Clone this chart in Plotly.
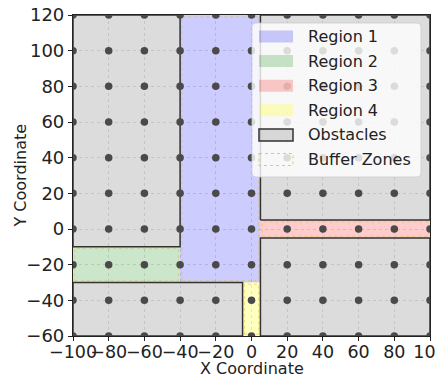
import plotly.graph_objects as go

# ---- data ----
region_names = ["Region 1", "Region 2", "Region 3", "Region 4"]
region_x0 = [-40, -100, 5, -5]
region_x1 = [5, -40, 100, 5]
region_y0 = [-30, -30, -5, -60]
region_y1 = [120, -10, 5, -30]
region_colors = ["rgba(0,0,255,0.2)", "rgba(0,128,0,0.2)", "rgba(255,0,0,0.2)", "rgba(255,255,0,0.25)"]

obstacle_x0 = [-100, 5, 5, -100]
obstacle_x1 = [-40, 100, 100, -5]
obstacle_y0 = [-10, 5, -60, -60]
obstacle_y1 = [120, 120, -5, -30]

buffer_x0 = [-39, -99, 6, -4]
buffer_x1 = [4, -41, 99, 4]
buffer_y0 = [-29, -29, -4, -59]
buffer_y1 = [119, -11, 4, -31]

grid_x = [-100, -80, -60, -40, -20, 0, 20, 40, 60, 80, 100]
grid_y = [-60, -40, -20, 0, 20, 40, 60, 80, 100, 120]

x_ticks = [-100, -80, -60, -40, -20, 0, 20, 40, 60, 80, 100]
y_ticks = [-60, -40, -20, 0, 20, 40, 60, 80, 100, 120]

legend_labels = ["Region 1", "Region 2", "Region 3", "Region 4", "Obstacles", "Buffer Zones"]
x_title = "X Coordinate"
y_title = "Y Coordinate"

OBST_FILL = "rgba(128,128,128,0.28)"
OBST_LINE = "#333333"
BUF_LINE = "rgba(220,190,60,0.55)"


def rect(x0, x1, y0, y1):
    return [x0, x1, x1, x0, x0], [y0, y0, y1, y1, y0]


fig = go.Figure()

for name, x0, x1, y0, y1, c in zip(region_names, region_x0, region_x1, region_y0, region_y1, region_colors):
    xs, ys = rect(x0, x1, y0, y1)
    fig.add_trace(go.Scatter(x=xs, y=ys, fill="toself", fillcolor=c, mode="lines",
                             line=dict(width=0, color=c), name=name, hoverinfo="skip"))

for x0, x1, y0, y1 in zip(obstacle_x0, obstacle_x1, obstacle_y0, obstacle_y1):
    xs, ys = rect(x0, x1, y0, y1)
    fig.add_trace(go.Scatter(x=xs, y=ys, fill="toself", fillcolor=OBST_FILL, mode="lines",
                             line=dict(width=1.5, color=OBST_LINE), name="Obstacles", hoverinfo="skip"))

for x0, x1, y0, y1 in zip(buffer_x0, buffer_x1, buffer_y0, buffer_y1):
    xs, ys = rect(x0, x1, y0, y1)
    fig.add_trace(go.Scatter(x=xs, y=ys, mode="lines",
                             line=dict(width=1, color=BUF_LINE, dash="dot"), name="Buffer Zones", hoverinfo="skip"))

px, py = [], []
for yv in grid_y:
    for xv in grid_x:
        px.append(xv)
        py.append(yv)
fig.add_trace(go.Scatter(x=px, y=py, mode="markers", marker=dict(size=7.5, color="#4a4a4a"),
                         hoverinfo="skip", cliponaxis=True))

# ---- layout in window pixels; page body has an 8px margin ----
OFF = 8
W, H = 444 - OFF, 376 - OFF
PL, PR, PT, PB = 73, 430, 15, 336          # plot area in window pixels
ML, MR, MT, MB = PL - OFF, W - (PR - OFF), PT - OFF, H - (PB - OFF)
PW, PH = PR - PL, PB - PT


def fx(p):
    return (p - PL) / PW


def fy(p):
    return 1 - (p - PT) / PH


bx0, bx1, by0, by1, r = 252, 421, 23, 177, 4
rx, ry = r / PW, r / PH
path = (f"M {fx(bx0)+rx},{fy(by0)} L {fx(bx1)-rx},{fy(by0)} Q {fx(bx1)},{fy(by0)} {fx(bx1)},{fy(by0)-ry} "
        f"L {fx(bx1)},{fy(by1)+ry} Q {fx(bx1)},{fy(by1)} {fx(bx1)-rx},{fy(by1)} "
        f"L {fx(bx0)+rx},{fy(by1)} Q {fx(bx0)},{fy(by1)} {fx(bx0)},{fy(by1)+ry} "
        f"L {fx(bx0)},{fy(by0)-ry} Q {fx(bx0)},{fy(by0)} {fx(bx0)+rx},{fy(by0)} Z")
shapes = [dict(type="path", xref="paper", yref="paper", path=path, layer="above",
               fillcolor="rgba(255,255,255,0.8)", line=dict(color="rgba(204,204,204,0.8)", width=1))]
annotations = []
patch_fills = region_colors + [OBST_FILL, "rgba(255,255,255,0)"]
patch_lines = [dict(width=0)] * 4 + [dict(color=OBST_LINE, width=1.5),
                                     dict(color="rgba(220,190,60,0.8)", width=1, dash="dot")]
row0, step = 36.5, 24.6
for i, lab in enumerate(legend_labels):
    cy = row0 + i * step
    shapes.append(dict(type="rect", xref="paper", yref="paper", layer="above",
                       x0=fx(259), x1=fx(293), y0=fy(cy - 6), y1=fy(cy + 6),
                       fillcolor=patch_fills[i], line=patch_lines[i]))
    annotations.append(dict(xref="paper", yref="paper", x=fx(306), y=fy(cy), text=lab, showarrow=False,
                            xanchor="left", yanchor="middle", font=dict(size=16, color="#222")))

annotations.append(dict(xref="paper", yref="paper", x=0.5, y=fy(368), text=x_title, showarrow=False,
                        xanchor="center", yanchor="middle", font=dict(size=16, color="#222")))
annotations.append(dict(xref="paper", yref="paper", x=fx(20), y=0.5, text=y_title, showarrow=False,
                        textangle=-90, xanchor="center", yanchor="middle", font=dict(size=16, color="#222")))

font_family = "DejaVu Sans"
fig.update_layout(
    width=W, height=H,
    margin=dict(l=ML, r=MR, t=MT, b=MB, autoexpand=False),
    paper_bgcolor="white", plot_bgcolor="white",
    font=dict(family=font_family, size=16, color="#222"),
    showlegend=False,
    shapes=shapes, annotations=annotations,
)
fig.update_xaxes(range=[-100, 100], tickvals=x_ticks, ticktext=[str(v).replace("-", "\u2212") for v in x_ticks],
                 automargin=False, ticklabelstandoff=-4,
                 tickangle=0, ticklabeloverflow="allow", showgrid=True, gridcolor="rgba(0,0,0,0.12)",
                 griddash="dot", gridwidth=0.8,
                 zeroline=False, showline=True, linecolor="#222", linewidth=1.2, mirror=True,
                 ticks="outside", ticklen=4, tickcolor="#222", tickfont=dict(size=17.5))
fig.update_yaxes(range=[-60, 120], tickvals=y_ticks, ticktext=[str(v).replace("-", "\u2212") for v in y_ticks],
                 automargin=False,
                 ticklabeloverflow="allow", showgrid=True, gridcolor="rgba(0,0,0,0.12)", griddash="dot", gridwidth=0.8,
                 zeroline=False, showline=True, linecolor="#222", linewidth=1.2, mirror=True,
                 ticks="outside", ticklen=4, tickcolor="#222", tickfont=dict(size=18))

fig.write_html("out.html")
